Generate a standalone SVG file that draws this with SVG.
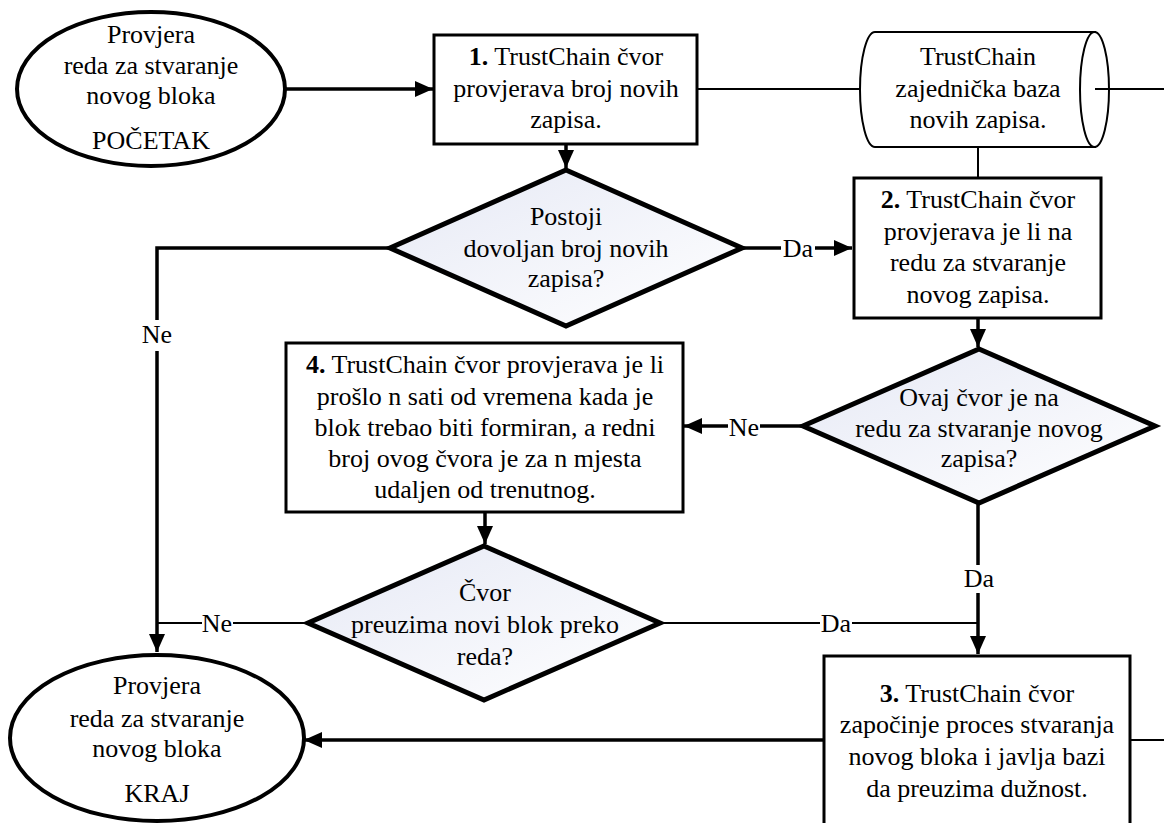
<svg xmlns="http://www.w3.org/2000/svg" width="1164" height="823" viewBox="0 0 1164 823" font-family="'Liberation Serif', 'DejaVu Serif', serif">
<style>
.t{font-family:'Liberation Serif','Tinos','DejaVu Serif',serif;font-size:26px;fill:#000;text-anchor:middle}
.b{font-weight:bold}
.el{fill:#fff;stroke:#000;stroke-width:4}
.bx{fill:#fff;stroke:#000;stroke-width:3}
.dm{fill:url(#dg);stroke:#000;stroke-width:5;stroke-linejoin:miter}
.db{fill:#fff;stroke:#000;stroke-width:2}
.thk{fill:none;stroke:#000;stroke-width:3.5}
.thn{fill:none;stroke:#000;stroke-width:2}
.arr{marker-end:url(#ah)}
.lb{fill:#fff;stroke:none}
</style>
<defs>
<linearGradient id="dg" x1="0" y1="0" x2="1" y2="1">
<stop offset="0" stop-color="#e6e9f5"/>
<stop offset="1" stop-color="#ffffff"/>
</linearGradient>
<marker id="ah" markerUnits="userSpaceOnUse" markerWidth="18" markerHeight="16" refX="18" refY="8" orient="auto">
<path d="M0,0 L18,8 L0,16 z" fill="#000"/>
</marker>
</defs>
<rect width="1164" height="823" fill="#fff"/>

<g id="connectors">
<path class="thk arr" d="M285,89 H433"/>
<path class="thk arr" d="M566,144 V168"/>
<path class="thn" d="M697,89 H860"/>
<path class="thn" d="M1095,89 H1164"/>
<path class="thn" d="M978,147 V178"/>
<path class="thk arr" d="M390,248 H157 V652"/>
<path class="thk arr" d="M742,248 H852"/>
<path class="thk arr" d="M978,318 V347"/>
<path class="thk arr" d="M803,426 H684"/>
<path class="thk arr" d="M485,512 V544"/>
<path class="thn" d="M308,623 H157"/>
<path class="thn" d="M660,623 H978"/>
<path class="thk arr" d="M978,503 V654"/>
<path class="thk arr" d="M824,740 H304"/>
<path class="thn" d="M1130,740 H1164"/>
<rect class="lb" x="140" y="320" width="34" height="31"/>
<text class="t" x="157" y="343">Ne</text>
<rect class="lb" x="781" y="237" width="34" height="22"/>
<text class="t" x="798" y="257">Da</text>
<rect class="lb" x="728" y="415" width="32" height="22"/>
<text class="t" x="744" y="436">Ne</text>
<rect class="lb" x="202" y="612" width="31" height="22"/>
<text class="t" x="217" y="632">Ne</text>
<rect class="lb" x="820" y="612" width="32" height="22"/>
<text class="t" x="836" y="632">Da</text>
<rect class="lb" x="962" y="565" width="33" height="28"/>
<text class="t" x="979" y="587">Da</text>
</g>

<g id="start">
<ellipse class="el" cx="151" cy="89" rx="134" ry="77"/>
<text class="t" x="151" y="43">Provjera</text>
<text class="t" x="151" y="74">reda za stvaranje</text>
<text class="t" x="151" y="104">novog bloka</text>
<text class="t" x="151" y="149">POČETAK</text>
</g>

<g id="step1">
<rect class="bx" x="434" y="35" width="263" height="109"/>
<text class="t" x="566" y="65"><tspan class="b">1.</tspan> TrustChain čvor</text>
<text class="t" x="566" y="97">provjerava broj novih</text>
<text class="t" x="566" y="128">zapisa.</text>
</g>

<g id="database">
<path class="db" d="M875,32 H1095 V147 H875 A15,57.5 0 0 1 875,32 Z"/>
<ellipse class="db" cx="1094.5" cy="89.5" rx="14.5" ry="57.5"/>
<path class="thn" d="M1095,89 H1109"/>
<text class="t" x="978" y="65">TrustChain</text>
<text class="t" x="978" y="97">zajednička baza</text>
<text class="t" x="978" y="128">novih zapisa.</text>
</g>

<g id="decision1">
<polygon class="dm" points="566,170 742,248 566,326 390,248"/>
<text class="t" x="566" y="225">Postoji</text>
<text class="t" x="566" y="257">dovoljan broj novih</text>
<text class="t" x="566" y="287">zapisa?</text>
</g>

<g id="step2">
<rect class="bx" x="854" y="178" width="247" height="140"/>
<text class="t" x="978" y="208"><tspan class="b">2.</tspan> TrustChain čvor</text>
<text class="t" x="978" y="240">provjerava je li na</text>
<text class="t" x="978" y="271">redu za stvaranje</text>
<text class="t" x="978" y="303">novog zapisa.</text>
</g>

<g id="decision2">
<polygon class="dm" points="979,349 1155,426 979,503 803,426"/>
<text class="t" x="979" y="406">Ovaj čvor je na</text>
<text class="t" x="979" y="437">redu za stvaranje novog</text>
<text class="t" x="979" y="467">zapisa?</text>
</g>

<g id="step4">
<rect class="bx" x="286" y="343" width="397" height="169"/>
<text class="t" x="485" y="373"><tspan class="b">4.</tspan> TrustChain čvor provjerava je li</text>
<text class="t" x="485" y="405">prošlo n sati od vremena kada je</text>
<text class="t" x="485" y="436">blok trebao biti formiran, a redni</text>
<text class="t" x="485" y="467">broj ovog čvora je za n mjesta</text>
<text class="t" x="485" y="498">udaljen od trenutnog.</text>
</g>

<g id="decision3">
<polygon class="dm" points="484,546 660,623 484,700 308,623"/>
<text class="t" x="485" y="601">Čvor</text>
<text class="t" x="485" y="633">preuzima novi blok preko</text>
<text class="t" x="485" y="665">reda?</text>
</g>

<g id="step3">
<rect class="bx" x="824" y="656" width="306" height="180"/>
<text class="t" x="977" y="702"><tspan class="b">3.</tspan> TrustChain čvor</text>
<text class="t" x="977" y="733">započinje proces stvaranja</text>
<text class="t" x="977" y="765">novog bloka i javlja bazi</text>
<text class="t" x="977" y="797">da preuzima dužnost.</text>
</g>

<g id="end">
<ellipse class="el" cx="157" cy="738" rx="147" ry="83"/>
<text class="t" x="157" y="694">Provjera</text>
<text class="t" x="157" y="727">reda za stvaranje</text>
<text class="t" x="157" y="757">novog bloka</text>
<text class="t" x="157" y="802">KRAJ</text>
</g>
</svg>
